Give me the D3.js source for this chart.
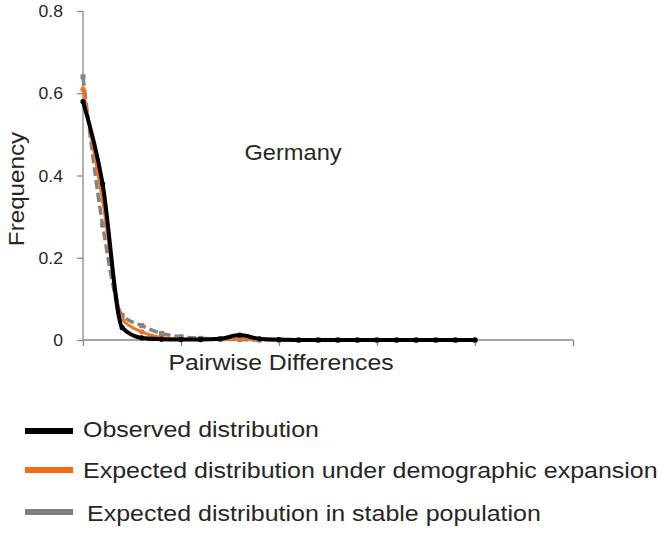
<!DOCTYPE html>
<html>
<head>
<meta charset="utf-8">
<script src="https://d3js.org/d3.v7.min.js"></script>
<style>
  body { margin: 0; background: #fff; }
  text { font-family: "Liberation Sans", Arial, sans-serif; }
</style>
</head>
<body>
<svg id="chart" width="664" height="534"></svg>
<script>
// pairwise differences 0..20 on a 0..25 category axis
const categories = d3.range(0, 21);
const observed = [0.58, 0.38, 0.03, 0.005, 0.002, 0.001, 0.001, 0.003, 0.012, 0.003, 0.001, 0, 0, 0, 0, 0, 0, 0, 0, 0, 0];
const expansion = [0.61, 0.34, 0.05, 0.02, 0.006, 0.002, 0.001, 0.001, 0.003, 0.001, 0, 0, 0, 0, 0, 0, 0, 0, 0, 0, 0];
const stable = [0.64, 0.28, 0.06, 0.035, 0.016, 0.008, 0.004, 0.002, 0.001, 0, 0, 0, 0, 0, 0, 0, 0, 0, 0, 0, 0];
const yTicks = [0, 0.2, 0.4, 0.6, 0.8];
const xTicks = [0, 5, 10, 15, 20, 25];
const legendNames = ["Observed distribution", "Expected distribution under demographic expansion", "Expected distribution in stable population"];

const svg = d3.select("#chart");
const stretch = 1.1;
const axisColor = "#8a8a8a";
const textColor = "#262626";

var x = d3.scaleLinear().domain([0, 25]).range([83, 573]);
var y = d3.scaleLinear().domain([0, 0.8]).range([340, 11]);

// stretched text helper (the original text is a bit wide)
function label(g, tx, ty, str, size, anchor, rot) {
  return g.append("text")
    .attr("transform", "translate(" + tx + "," + ty + ")" + (rot ? " rotate(" + rot + ")" : "") + " scale(" + stretch + ",1)")
    .attr("text-anchor", anchor)
    .style("font-size", size + "px")
    .style("fill", textColor)
    .text(str);
}

// y axis
var yAxis = svg.append("g")
  .attr("transform", "translate(" + x(0) + ",0)")
  .call(d3.axisLeft(y).tickValues(yTicks).tickSize(6).tickFormat(d => d === 0 ? "0" : d3.format(".1f")(d)));
yAxis.select(".domain").attr("stroke", axisColor).attr("stroke-width", 1.3).attr("d", "M0," + y(0.8) + "V" + y(0));
yAxis.selectAll(".tick line").attr("stroke", axisColor).attr("stroke-width", 1.3);
yAxis.selectAll(".tick text").remove();
yTicks.forEach(function(v) {
  label(svg, 63, y(v) + 6, v === 0 ? "0" : v.toFixed(1), 16, "end");
});

// x axis
var xAxis = svg.append("g")
  .attr("transform", "translate(0," + y(0) + ")")
  .call(d3.axisBottom(x).tickValues(xTicks).tickSize(6).tickFormat(""));
xAxis.select(".domain").attr("stroke", axisColor).attr("stroke-width", 1.3).attr("d", "M" + x(0) + ",0H" + x(25));
xAxis.selectAll(".tick line").attr("stroke", axisColor).attr("stroke-width", 1.3);

// lines
var line = d3.line()
  .x((d, i) => x(categories[i]))
  .y(d => y(d))
  .curve(d3.curveMonotoneX);

var series = [
  {name: legendNames[2], values: stable, color: "#848484", width: 3.5, dash: "9,4", marker: "square"},
  {name: legendNames[1], values: expansion, color: "#ef7420", width: 3, dash: null, marker: "circle"},
  {name: legendNames[0], values: observed, color: "#000000", width: 4, dash: null, marker: "circle"}
];

series.forEach(function(s) {
  svg.append("path")
    .datum(s.values)
    .attr("d", line)
    .attr("fill", "none")
    .attr("stroke", s.color)
    .attr("stroke-width", s.width)
    .attr("stroke-dasharray", s.dash)
    .attr("stroke-linejoin", "round");
  if (s.marker === "square") {
    svg.selectAll(null)
      .data(s.values)
      .enter()
      .append("rect")
      .attr("x", (d, i) => x(categories[i]) - 2.5)
      .attr("y", d => y(d) - 2.5)
      .attr("width", 5)
      .attr("height", 5)
      .style("fill", s.color);
  } else {
    svg.selectAll(null)
      .data(s.values)
      .enter()
      .append("circle")
      .attr("cx", (d, i) => x(categories[i]))
      .attr("cy", d => y(d))
      .attr("r", 2.6)
      .style("fill", s.color);
  }
});

// titles
label(svg, 293, 160, "Germany", 21.5, "middle");
label(svg, 281, 370, "Pairwise Differences", 22.5, "middle");
label(svg, 24, 189, "Frequency", 22, "middle", -90);

// legend
var legendRows = [
  {name: legendNames[0], color: "#000000", ly: 431, ty: 437, tx: 83},
  {name: legendNames[1], color: "#f96a12", ly: 470, ty: 478, tx: 83},
  {name: legendNames[2], color: "#7f7f7f", ly: 512, ty: 521, tx: 87}
];
var legend = svg.append("g");
legendRows.forEach(function(r) {
  legend.append("line")
    .attr("x1", 25).attr("x2", 73)
    .attr("y1", r.ly).attr("y2", r.ly)
    .attr("stroke", r.color)
    .attr("stroke-width", 6);
  label(legend, r.tx, r.ty, r.name, 22.7, "start");
});
</script>
</body>
</html>
